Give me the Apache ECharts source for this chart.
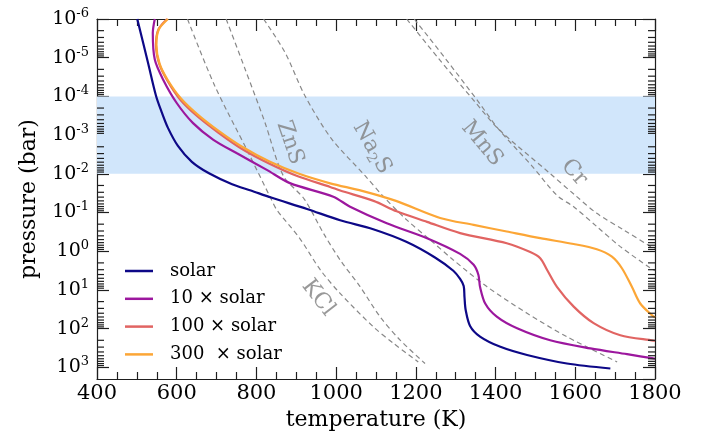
<!DOCTYPE html>
<html><head><meta charset="utf-8">
<script src="https://cdn.jsdelivr.net/npm/echarts@6/dist/echarts.min.js"></script>
<style>html,body{margin:0;padding:0;background:#fff}#c{width:702px;height:435px}</style>
</head><body><div id="c"></div>
<script>
// ---- axis ticks ----
const xTicks = [400, 600, 800, 1000, 1200, 1400, 1600, 1800];
const yTickExps = [-6, -5, -4, -3, -2, -1, 0, 1, 2, 3];
const yMax = 2000;
const minorMantissas = [2, 3, 4, 5, 6, 7, 8, 9];

// ---- T-P profiles (temperature K, pressure bar) ----
const profileNames = ['solar', '10 × solar', '100 × solar', '300  × solar'];
const solarT = [501, 528, 548, 562, 578, 603, 638, 681, 739, 786, 837, 927, 1010, 1093, 1176, 1248, 1294, 1311, 1320, 1322, 1325, 1336, 1361, 1412, 1479, 1579, 1688];
const solarP = [1e-6, 1.35e-5, 9.6e-5, 2.5e-4, 6.5e-4, 1.9e-3, 4.9e-3, 9.7e-3, 0.0186, 0.027, 0.041, 0.081, 0.159, 0.27, 0.57, 1.45, 3.2, 5.2, 7.9, 15.2, 33, 85, 160, 295, 479, 794, 1070];
const x10T = [545, 540, 545, 566, 600, 641, 692, 750, 826, 884, 993, 1035, 1127, 1228, 1311, 1345, 1357, 1361, 1374, 1403, 1454, 1537, 1638, 1730, 1796, 1800];
const x10P = [1e-6, 2.3e-6, 1.12e-5, 3.7e-5, 1.48e-4, 4.9e-4, 1.32e-3, 2.9e-3, 7.9e-3, 0.0174, 0.039, 0.071, 0.19, 0.46, 1.17, 2.24, 4.1, 8.3, 22.4, 49, 98, 200, 324, 457, 589, 592];
const x100T = [576, 554, 548, 556, 576, 608, 651, 705, 763, 833, 904, 985, 1010, 1094, 1152, 1228, 1311, 1428, 1487, 1512, 1529, 1554, 1596, 1646, 1713, 1796, 1800];
const x100P = [1e-6, 1.87e-6, 4.6e-6, 1.42e-5, 3.8e-5, 1.18e-4, 3.2e-4, 8.7e-4, 2.25e-3, 5.5e-3, 0.0116, 0.0218, 0.027, 0.050, 0.093, 0.174, 0.34, 0.62, 1.05, 1.51, 3.0, 8.3, 27, 72, 148, 204, 207];
const x300T = [578, 555, 549, 557, 577, 609, 652, 706, 764, 834, 907, 985, 1065, 1150, 1261, 1345, 1428, 1512, 1596, 1654, 1692, 1717, 1742, 1763, 1792, 1800];
const x300P = [1e-6, 1.87e-6, 4.6e-6, 1.42e-5, 3.7e-5, 1.08e-4, 2.9e-4, 7.9e-4, 2.0e-3, 4.9e-3, 0.010, 0.0176, 0.0275, 0.050, 0.138, 0.209, 0.31, 0.46, 0.65, 0.89, 1.38, 2.75, 8.3, 22.4, 44.7, 51];

// ---- condensation curves ----
const kclT = [627, 695, 779, 837, 851, 909, 960, 1010, 1093, 1144, 1206];
const kclP = [1e-6, 5.2e-5, 2.75e-3, 0.045, 0.085, 0.47, 3.0, 12.3, 89, 240, 724];
const znsT = [724, 771, 821, 867, 920, 968, 1010, 1060, 1110, 1160, 1223];
const znsP = [1e-6, 1.9e-5, 4.6e-4, 0.011, 0.045, 0.34, 1.68, 8.2, 49, 195, 794];
const na2sT = [818, 871, 921, 988, 1072, 1119, 1177, 1236, 1294, 1378, 1479, 1579, 1705];
const na2sP = [1e-6, 7.1e-6, 9.3e-5, 1.23e-3, 0.011, 0.039, 0.155, 0.51, 1.68, 8.2, 40, 162, 724];
const mnsT = [1177, 1257, 1345, 1407, 1533, 1600, 1654, 1721, 1789, 1800];
const mnsP = [1e-6, 1.05e-5, 1.26e-4, 6.9e-4, 9.1e-3, 0.036, 0.105, 0.28, 0.76, 0.89];
const crT = [1196, 1274, 1357, 1407, 1491, 1554, 1596, 1654, 1713, 1789, 1800];
const crP = [1e-6, 1.05e-5, 1.38e-4, 6.9e-4, 6.2e-3, 0.036, 0.071, 0.23, 0.76, 2.75, 3.2];

// ---- labels of condensation curves (anchor in data units) ----
const condLabels = ['ZnS', 'Na{sub|2}S', 'MnS', 'Cr', 'KCl'];
const condLabelT = [884, 1090, 1366, 1597, 955];
const condLabelP = [1.58e-3, 2.14e-3, 1.66e-3, 9.3e-3, 16];
const condLabelRot = [-71, -60, -50, -48, -52];

// ---- shaded pressure band ----
const bandP = [1e-4, 1e-2];

const FONT = 'DejaVu Serif';
const AX = '#1e1e1e';
const colors = ['#0d0887', '#9c179e', '#e16462', '#fca636'];
const zip = (T, P) => T.map((t, i) => [t, P[i]]);

const profiles = [zip(solarT, solarP), zip(x10T, x10P), zip(x100T, x100P), zip(x300T, x300P)];
const conds = [zip(kclT, kclP), zip(znsT, znsP), zip(na2sT, na2sP), zip(mnsT, mnsP), zip(crT, crP)];

const xMin = xTicks[0], xMax = xTicks[xTicks.length - 1];
const yMin = Math.pow(10, yTickExps[0]);
const minorVals = [];
yTickExps.slice(0, -1).forEach(e => minorMantissas.forEach(m => minorVals.push([xMin, m * Math.pow(10, e)])));

const chart = echarts.init(document.getElementById('c'), null, {renderer: 'canvas', width: 702, height: 435});

function xAxisCfg(pos) {
  return {
    type: 'value', position: pos, min: xMin, max: xMax, interval: xTicks[1] - xTicks[0],
    name: pos === 'bottom' ? 'temperature (K)' : '', nameLocation: 'middle', nameGap: 27,
    nameTextStyle: {fontFamily: FONT, fontSize: 22, color: '#000'},
    axisLine: {show: true, onZero: false, lineStyle: {color: AX, width: 1.2}},
    axisTick: {show: true, inside: true, length: 12, lineStyle: {color: AX, width: 1.2}},
    minorTick: {show: true, splitNumber: 4, length: 7, lineStyle: {color: AX, width: 1.2}},
    axisLabel: {show: pos === 'bottom', fontFamily: FONT, fontSize: 21, color: '#000', margin: 4,
      formatter: v => String(v)},
    splitLine: {show: false}, minorSplitLine: {show: false}
  };
}
function yAxisCfg(pos) {
  return {
    type: 'log', logBase: 10, position: pos, min: yMin, max: yMax, interval: 1, inverse: true,
    name: pos === 'left' ? 'pressure (bar)' : '', nameLocation: 'middle', nameGap: 57, nameRotate: 90,
    nameTextStyle: {fontFamily: FONT, fontSize: 22, color: '#000'},
    axisLine: {show: true, onZero: false, lineStyle: {color: AX, width: 1.2}},
    axisTick: {show: true, inside: true, length: 12, lineStyle: {color: AX, width: 1.2}},
    axisLabel: {
      show: pos === 'left', showMaxLabel: false, margin: 8,
      fontFamily: FONT, fontSize: 19, color: '#000', lineHeight: 24,
      formatter: v => '10{sup|' + Math.round(Math.log10(v)) + '}',
      rich: {sup: {fontFamily: FONT, fontSize: 13, lineHeight: 12, verticalAlign: 'top', color: '#000'}}
    },
    splitLine: {show: false}
  };
}

const series = [];
series.push({
  type: 'line', name: 'band', data: [[xMin, yMin]], showSymbol: false, symbol: 'none',
  lineStyle: {opacity: 0}, z: 1, silent: true,
  markArea: {silent: true, itemStyle: {color: '#d1e6fb'}, data: [[{yAxis: bandP[0]}, {yAxis: bandP[1]}]]}
});
conds.forEach((d, i) => series.push({
  type: 'line', name: 'cond' + i, data: d, showSymbol: false, symbol: 'none', smooth: 0.3, z: 2, silent: true,
  lineStyle: {color: '#888888', width: 1.2, type: [5, 3.5]}
}));
profiles.forEach((d, i) => series.push({
  type: 'line', name: profileNames[i], data: d, showSymbol: false, symbol: 'none', smooth: 0.3, z: 3,
  itemStyle: {color: colors[i]}, lineStyle: {color: colors[i], width: 2.2}
}));
series.push({
  type: 'scatter', name: 'labels', symbolSize: 0, z: 4, silent: true,
  data: condLabels.map((t, i) => ({value: [condLabelT[i], condLabelP[i]], label: {formatter: t, rotate: condLabelRot[i]}})),
  label: {show: true, position: 'inside', color: '#808080', fontFamily: FONT, fontSize: 22, lineHeight: 26,
    rich: {sub: {fontFamily: FONT, fontSize: 14, lineHeight: 10, verticalAlign: 'bottom', color: '#808080'}}}
});
series.push({
  type: 'custom', name: 'minorTicks', data: minorVals, encode: {x: 0, y: 1}, z: 5, silent: true, clip: false,
  renderItem: function (params, api) {
    const p = api.value(1);
    const l = api.coord([xMin, p]);
    const r = api.coord([xMax, p]);
    return {type: 'group', children: [
      {type: 'line', shape: {x1: l[0], y1: l[1], x2: l[0] + 7, y2: l[1]}, style: {stroke: AX, lineWidth: 1.2}},
      {type: 'line', shape: {x1: r[0] - 7, y1: r[1], x2: r[0], y2: r[1]}, style: {stroke: AX, lineWidth: 1.2}}
    ]};
  }
});

chart.setOption({
  animation: false,
  backgroundColor: '#fff',
  grid: {left: 97, right: 47, top: 19, bottom: 56, containLabel: false, outerBoundsMode: 'none'},
  legend: {
    data: profileNames, orient: 'vertical', left: 120, top: 256, icon: 'rect',
    itemWidth: 28, itemHeight: 2.5, itemGap: 7.8, selectedMode: false,
    textStyle: {fontFamily: FONT, fontSize: 18, color: '#000', lineHeight: 20, padding: [0, 0, 0, 12]}
  },
  xAxis: [xAxisCfg('bottom'), xAxisCfg('top')],
  yAxis: [yAxisCfg('left'), yAxisCfg('right')],
  series: series
});
</script>
</body></html>
